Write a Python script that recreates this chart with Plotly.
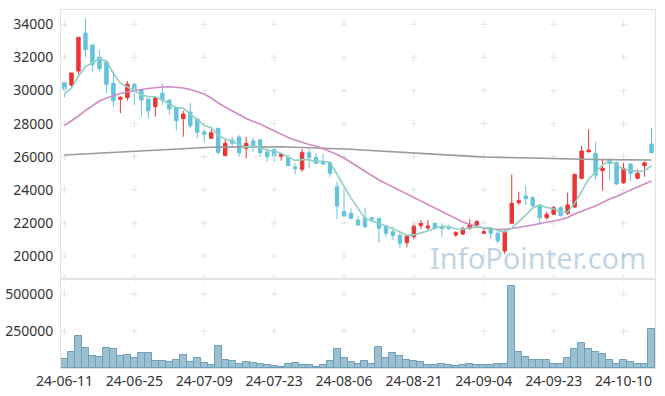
import plotly.graph_objects as go

# ---------------- data ----------------
tick_idx = [0, 10, 20, 30, 40, 50, 60, 70, 80]
tick_labels = ["24-06-11", "24-06-25", "24-07-09", "24-07-23", "24-08-06",
               "24-08-21", "24-09-04", "24-09-23", "24-10-10"]

open_ = [30475, 30334, 31180, 33476, 32751, 32006, 31724, 30435, 29468, 29565,
         30375, 30030, 29487, 29021, 29831, 29426, 28985, 28296, 28701, 28278,
         27493, 27112, 27716, 26061, 27010, 27190, 26508, 26949, 27010, 26284,
         26445, 26024, 25940, 25378, 25239, 26242, 25960, 25662, 25638, 24188,
         22678, 22578, 22176, 22315, 22315, 22278, 21830, 21470, 21251, 20805,
         21170, 21830, 21692, 21976, 21733, 21750, 21269, 21330, 21675, 21874,
         21372, 21571, 21372, 20302, 21976, 23222, 23626, 23524, 23082, 22315,
         22520, 22920, 22580, 22962, 24695, 26303, 26206, 25154, 25759, 25638,
         24430, 25560, 24695, 25457, 26770]
high = [30500, 31060, 33215, 34362, 32751, 32449, 31724, 31150, 29650, 30574,
        30450, 30100, 29487, 29600, 30435, 29426, 28985, 28780, 29263, 28278,
        27674, 27674, 27716, 27010, 27209, 27310, 27209, 27149, 27050, 26508,
        26508, 26242, 26103, 25602, 26445, 26445, 26206, 26163, 25700, 24490,
        24091, 22883, 22417, 22920, 22380, 22300, 21900, 21773, 21372, 21230,
        21976, 22176, 22176, 22000, 21976, 21900, 21500, 21773, 22218, 22176,
        21675, 21773, 21571, 21571, 24937, 23886, 24248, 23600, 23120, 22678,
        23040, 23022, 23826, 24960, 26647, 27656, 26907, 25843, 25900, 25700,
        25638, 25580, 25239, 25700, 27716]
low = [29589, 30200, 31000, 32006, 31140, 31140, 29831, 28985, 28622, 29384,
       29124, 28417, 28320, 28417, 29124, 28520, 27571, 27209, 27716, 27112,
       26870, 27112, 26163, 26061, 26605, 26000, 25904, 26303, 25980, 25700,
       25700, 25760, 25440, 24937, 25094, 25299, 25560, 25500, 24792, 22218,
       22337, 22218, 21800, 21673, 22036, 20805, 21170, 20967, 20466, 20526,
       21009, 21632, 21570, 21590, 21170, 21550, 21150, 21269, 21572, 21733,
       21372, 21027, 20768, 20103, 21915, 23100, 23082, 22980, 21874, 22200,
       22500, 22400, 22478, 22900, 24635, 26242, 24635, 23946, 24550, 24300,
       24350, 24550, 24635, 24792, 26206]
close = [30093, 31060, 33215, 32469, 31563, 31321, 30375, 29388, 29589, 30375,
         29970, 29426, 28780, 29547, 29426, 28900, 28175, 28580, 27873, 27475,
         27354, 27450, 26266, 26810, 26810, 26242, 26810, 26647, 26242, 26000,
         26000, 26146, 25457, 25275, 26242, 25940, 25602, 25560, 24997, 23022,
         22417, 22278, 21874, 21773, 22218, 21673, 21372, 21229, 20768, 21210,
         21813, 21976, 21813, 21673, 21673, 21680, 21410, 21675, 21915, 22074,
         21470, 21372, 20907, 21470, 23185, 23342, 23463, 23040, 22315, 22520,
         22920, 22437, 23082, 24937, 26345, 26405, 24895, 25299, 25602, 24350,
         25299, 24997, 24997, 25638, 26242]

ma5 = [29789, 30133, 30876, 31438, 31680, 31926, 31789, 31023, 30447, 30210,
       29939, 29750, 29628, 29620, 29430, 29216, 28966, 28926, 28591, 28201,
       27891, 27746, 27284, 27071, 26938, 26716, 26588, 26664, 26550, 26388,
       26340, 26207, 25969, 25776, 25824, 25812, 25703, 25724, 25668, 24900,
       24200, 23500, 22918, 22273, 22112, 21963, 21782, 21653, 21452, 21250,
       21278, 21399, 21516, 21697, 21790, 21763, 21650, 21622, 21671, 21751,
       21709, 21701, 21548, 21459, 21681, 22055, 22473, 22900, 23069, 22936,
       22852, 22646, 22655, 23179, 23944, 24641, 25050, 25500, 25750, 25500,
       25250, 25180, 25100, 25150, 25450]
ma20 = [27885, 28157, 28459, 28792, 29094, 29366, 29547, 29698, 29819, 29909,
        30000, 30061, 30121, 30181, 30212, 30224, 30199, 30151, 30061, 29939,
        29789, 29547, 29245, 29003, 28761, 28520, 28308, 28127, 27976, 27765,
        27553, 27342, 27161, 27009, 26858, 26737, 26647, 26496, 26315, 26133,
        25922, 25650, 25378, 25136, 24864, 24592, 24381, 24170, 23958, 23747,
        23535, 23324, 23112, 22901, 22690, 22478, 22236, 22055, 21904, 21783,
        21692, 21632, 21614, 21614, 21662, 21723, 21813, 21873, 21964, 22025,
        22115, 22206, 22327, 22539, 22720, 22871, 23022, 23233, 23444, 23595,
        23807, 23988, 24169, 24351, 24532]
ma120 = [26103, 26127, 26151, 26176, 26200, 26224, 26248, 26272, 26297, 26321,
         26345, 26369, 26393, 26418, 26442, 26466, 26487, 26507, 26528, 26548,
         26568, 26574, 26580, 26586, 26592, 26598, 26599, 26600, 26601, 26603,
         26604, 26594, 26585, 26575, 26566, 26556, 26540, 26525, 26509, 26493,
         26477, 26450, 26424, 26397, 26371, 26345, 26321, 26297, 26272, 26248,
         26224, 26200, 26176, 26151, 26127, 26103, 26079, 26055, 26030, 26006,
         25982, 25970, 25958, 25946, 25933, 25921, 25909, 25897, 25885, 25873,
         25861, 25855, 25849, 25843, 25837, 25831, 25827, 25824, 25820, 25816,
         25813, 25810, 25807, 25804, 25801]

volume = [60800, 106000, 216000, 133000, 81000, 72000, 133000, 126000, 81000, 88000,
          67500, 99000, 99000, 47000, 47000, 40500, 54000, 88000, 40500, 65500,
          34000, 20000, 149000, 54000, 47000, 27000, 38500, 31500, 25000, 18000,
          13500, 9000, 27000, 34000, 18000, 18000, 9000, 18000, 47000, 126000,
          65500, 38500, 27000, 45000, 27000, 140000, 65500, 99000, 81000, 52000,
          45000, 38500, 18000, 18000, 27000, 18000, 11500, 18000, 27000, 18000,
          18000, 18000, 27000, 27000, 554000, 106000, 72000, 52000, 52000, 52000,
          27000, 27000, 65500, 126000, 167000, 126000, 106000, 94600, 52000, 27000,
          52000, 38500, 27000, 27000, 261500]

price_ticks = [20000, 22000, 24000, 26000, 28000, 30000, 32000, 34000]
volume_ticks = [250000, 500000]

# ---------------- figure ----------------
x = list(range(len(close)))
RED = "#ec3434"
BLUE = "#66c2dc"
FONT = "Noto Sans"
PRICE_RANGE = [18671, 34864]
VOL_RANGE = [0, 594600]
CROSS = dict(symbol="cross-thin", size=5, line=dict(color="#e4e4e4", width=1))

fig = go.Figure()

# grid crosses
cross_x, cross_y = [], []
for xv in tick_idx:
    for yv in price_ticks + [PRICE_RANGE[0]]:
        cross_x.append(xv)
        cross_y.append(yv)
fig.add_trace(go.Scatter(x=cross_x, y=cross_y, mode="markers", marker=CROSS,
                         hoverinfo="skip", showlegend=False, cliponaxis=False,
                         xaxis="x", yaxis="y"))
vx, vy = [], []
for xv in tick_idx:
    for yv in volume_ticks:
        vx.append(xv)
        vy.append(yv)
fig.add_trace(go.Scatter(x=vx, y=vy, mode="markers", marker=CROSS,
                         hoverinfo="skip", showlegend=False,
                         xaxis="x2", yaxis="y2"))

fig.add_trace(go.Candlestick(
    x=x, open=open_, high=high, low=low, close=close,
    increasing=dict(line=dict(color=RED, width=1), fillcolor=RED),
    decreasing=dict(line=dict(color=BLUE, width=1), fillcolor=BLUE),
    whiskerwidth=0, showlegend=False, hoverinfo="skip",
    xaxis="x", yaxis="y"))

fig.add_trace(go.Scatter(x=x, y=ma120, mode="lines",
                         line=dict(color="#9a9a9a", width=1.6),
                         hoverinfo="skip", showlegend=False, xaxis="x", yaxis="y"))
fig.add_trace(go.Scatter(x=x, y=ma20, mode="lines",
                         line=dict(color="#cc8cc4", width=1.6),
                         hoverinfo="skip", showlegend=False, xaxis="x", yaxis="y"))
fig.add_trace(go.Scatter(x=x, y=ma5, mode="lines",
                         line=dict(color="#8fd0c3", width=1.6),
                         hoverinfo="skip", showlegend=False, xaxis="x", yaxis="y"))

fig.add_trace(go.Bar(x=x, y=volume,
                     marker=dict(color="#9bc0d2", line=dict(color="#6f9fb9", width=1)),
                     hoverinfo="skip", showlegend=False, xaxis="x2", yaxis="y2"))

axis_line = "#e3e3e3"
tickfont = dict(family=FONT, size=14, color="#333333")

fig.update_layout(
    width=665, height=396,
    margin=dict(l=61, r=10, t=10, b=28, autoexpand=False),
    paper_bgcolor="white", plot_bgcolor="white",
    bargap=0,
    showlegend=False,
    xaxis=dict(domain=[0, 1], range=[-0.5, 84.5], showgrid=False, zeroline=False,
               showticklabels=False, showline=True, mirror=True, linecolor=axis_line,
               linewidth=1, rangeslider=dict(visible=False), anchor="y",
               tickvals=tick_idx, ticks="", automargin=False),
    yaxis=dict(domain=[0.2514, 1], range=PRICE_RANGE, showgrid=False, zeroline=False,
               tickvals=price_ticks, ticktext=[str(v) for v in price_ticks],
               tickfont=tickfont, showline=True, mirror=True, linecolor=axis_line,
               linewidth=1, ticks="", ticklabelstandoff=4, anchor="x",
               automargin=False),
    xaxis2=dict(domain=[0, 1], range=[-0.5, 84.5], showgrid=False, zeroline=False,
                tickvals=tick_idx, ticktext=tick_labels, tickfont=tickfont,
                showline=True, mirror=True, linecolor=axis_line, linewidth=1,
                ticks="", anchor="y2", ticklabelstandoff=0, automargin=False),
    yaxis2=dict(domain=[0, 0.2458], range=VOL_RANGE, showgrid=False, zeroline=False,
                tickvals=volume_ticks, ticktext=[str(v) for v in volume_ticks],
                tickfont=tickfont, showline=True, mirror=True, linecolor=axis_line,
                linewidth=1, ticks="", ticklabelstandoff=4, anchor="x2",
                automargin=False),
    annotations=[dict(text="InfoPointer.com", xref="paper", yref="paper",
                      x=0.989, y=0.31, xanchor="right", yanchor="middle",
                      showarrow=False,
                      font=dict(family=FONT, size=29, color="rgba(130,170,200,0.5)"))],
)

fig.write_html("out.html", config={"displayModeBar": False},
               post_script="document.body.style.margin='0';")
